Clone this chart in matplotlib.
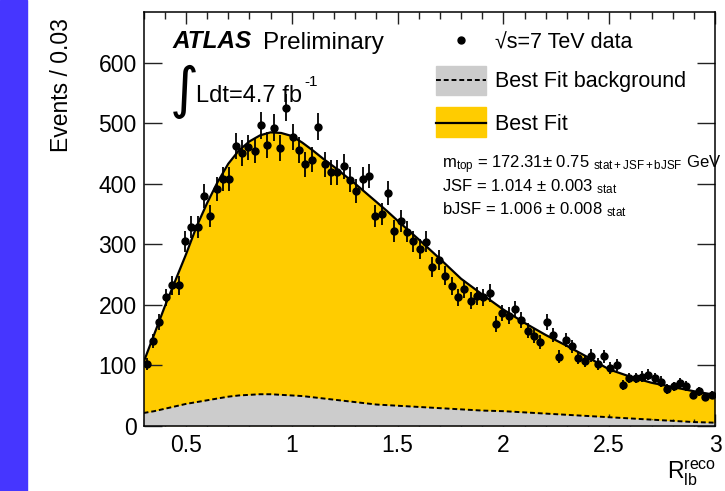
import numpy as np
import matplotlib
matplotlib.use("Agg")
import matplotlib.pyplot as plt
from matplotlib.patches import Rectangle
from matplotlib.lines import Line2D
from matplotlib.ticker import MultipleLocator, NullLocator, FuncFormatter

# histogramme R_lb^reco, bins de 0.03 entre 0.3 et 3
bin_min = 0.3
bin_width = 0.03
data_counts = [
    102, 140, 171, 212, 232, 232, 305, 328, 328, 380,
    347, 392, 408, 408, 463, 451, 460, 455, 497, 464,
    493, 459, 526, 477, 456, 432, 440, 494, 432, 419,
    419, 429, 407, 388, 408, 413, 347, 350, 385, 322,
    338, 321, 305, 292, 304, 262, 274, 248, 231, 212,
    226, 207, 215, 212, 219, 168, 186, 182, 193, 175,
    157, 149, 138, 172, 150, 114, 142, 131, 112, 107,
    116, 102, 115, 95, 101, 68, 79, 79, 81, 84,
    79, 73, 61, 65, 71, 66, 51, 57, 47, 51,
]

# courbes du fit
fit_x = [0.30, 0.35, 0.40, 0.45, 0.50, 0.55, 0.60, 0.65, 0.70, 0.75,
         0.80, 0.85, 0.90, 0.95, 1.00, 1.05, 1.10, 1.15, 1.20, 1.25,
         1.30, 1.35, 1.40, 1.45, 1.50, 1.60, 1.70, 1.80, 1.90, 2.00,
         2.10, 2.20, 2.30, 2.40, 2.50, 2.60, 2.70, 2.80, 2.90, 3.00]
fit_total = [105, 151, 197, 240, 283, 329, 368, 403, 433, 455,
             470, 480, 485, 484, 479, 468, 455, 441, 428, 414,
             400, 385, 370, 355, 339, 308, 276, 243, 217, 192,
             170, 150, 132, 113, 93, 81, 71, 64, 57, 51]
fit_bkg = [21, 24, 28, 32, 36, 39, 42, 45, 48, 50,
           51, 52, 52, 51, 50, 49, 47, 45, 43, 41,
           39, 37, 35, 34, 33, 31, 29, 27, 25, 24,
           22, 20, 18, 16, 14, 12, 10, 8, 6, 5]

legend_labels = ["\u221as=7 TeV data", "Best Fit background", "Best Fit"]
fit_lines = [
    r"m$_{\rm top}$ = 172.31$\pm$ 0.75 $_{\rm stat+JSF+bJSF}$ GeV",
    r"JSF = 1.014 $\pm$ 0.003 $_{\rm stat}$",
    r"bJSF = 1.006 $\pm$ 0.008 $_{\rm stat}$",
]

plt.rcParams["font.family"] = "Liberation Sans"
plt.rcParams["mathtext.fontset"] = "custom"
plt.rcParams["mathtext.rm"] = "Liberation Sans"
plt.rcParams["mathtext.it"] = "Liberation Sans:italic"
plt.rcParams["mathtext.bf"] = "Liberation Sans:bold"

W, H = 725, 491
YELLOW = "#ffcc00"
GREY = "#cccccc"


def fx(px):
    return px / W


def fy(py):
    return 1 - py / H


fig = plt.figure(figsize=(W / 100, H / 100), dpi=100)
fig.add_artist(Rectangle((0, 0), fx(27), 1, transform=fig.transFigure,
                         color="#4636ff", zorder=0))

ax = fig.add_axes([fx(143.6), fy(425.7), fx(715 - 143.6), (425.7 - 12) / H])

counts = np.array(data_counts, dtype=float)
centers = bin_min + bin_width * (np.arange(len(counts)) + 0.5)

ax.fill_between(fit_x, 0, fit_total, color=YELLOW, lw=0, zorder=1)
ax.fill_between(fit_x, 0, fit_bkg, color=GREY, lw=0, zorder=2)
ax.plot(fit_x, fit_bkg, color="black", lw=1.4, ls=(0, (2.5, 1.5)), zorder=3)
ax.plot(fit_x, fit_total, color="black", lw=1.6, zorder=3)
ax.errorbar(centers, counts, yerr=np.sqrt(counts), fmt="o", color="black",
            ms=5, elinewidth=1.3, capsize=0, zorder=4)

ax.set_xlim(0.3, 3.0)
ax.set_ylim(0, 684)

ax.xaxis.set_major_locator(MultipleLocator(0.5))
ax.xaxis.set_minor_locator(MultipleLocator(0.1))
ax.yaxis.set_major_locator(MultipleLocator(100))
ax.yaxis.set_minor_locator(NullLocator())
ax.xaxis.set_major_formatter(FuncFormatter(lambda v, p: "%g" % v))
ax.tick_params(which="both", direction="in", top=True, right=True,
               colors="#222222", labelcolor="black")
ax.tick_params(axis="x", which="major", length=8.6, width=1, labelsize=16.5, pad=6)
ax.tick_params(axis="x", which="minor", length=5, width=1)
ax.tick_params(axis="y", which="major", length=13, width=1, labelsize=16.5, pad=5)
for s in ax.spines.values():
    s.set_linewidth(1.1)

# titres des axes
fig.text(fx(62), fy(18), "Events / 0.03", rotation=90, ha="center", va="top",
         fontsize=16.5)
fig.text(fx(716), fy(480), r"R$_{\rm lb}^{\rm reco}$", ha="right", va="baseline",
         fontsize=16.5)

# ATLAS
fig.text(fx(173), fy(48.5), "ATLAS", fontsize=17.5, fontweight="bold",
         fontstyle="italic", va="baseline")
fig.text(fx(263), fy(48.5), "Preliminary", fontsize=17.5, va="baseline")
fig.text(fx(170), fy(107), "\u222b", fontsize=40, family="DejaVu Sans",
         va="baseline")
fig.text(fx(196), fy(101.7), "Ldt=4.7 fb", fontsize=17, va="baseline")
fig.text(fx(304), fy(86), "-1", fontsize=11, va="baseline")

# legende faite a la main
fig.add_artist(Line2D([fx(460.7)], [fy(40)], marker="o", ms=5, color="black",
                      transform=fig.transFigure))
fig.add_artist(Rectangle((fx(436), fy(95)), fx(50), 29 / H, color=GREY,
                         transform=fig.transFigure))
fig.add_artist(Line2D([fx(436), fx(486)], [fy(80), fy(80)], color="black", lw=1.4,
                      ls=(0, (2.5, 1.5)), transform=fig.transFigure))
fig.add_artist(Rectangle((fx(436), fy(137)), fx(50), 30 / H, color=YELLOW,
                         transform=fig.transFigure))
fig.add_artist(Line2D([fx(436), fx(486)], [fy(122.5), fy(122.5)], color="black",
                      lw=1.6, transform=fig.transFigure))
for lab, base in zip(legend_labels, [48, 87.3, 130]):
    fig.text(fx(495), fy(base), lab, fontsize=15.5, va="baseline")

for line, base in zip(fit_lines, [168, 191.5, 214]):
    fig.text(fx(442), fy(base), line, fontsize=12, va="baseline")

fig.savefig("out.png", dpi=100)
